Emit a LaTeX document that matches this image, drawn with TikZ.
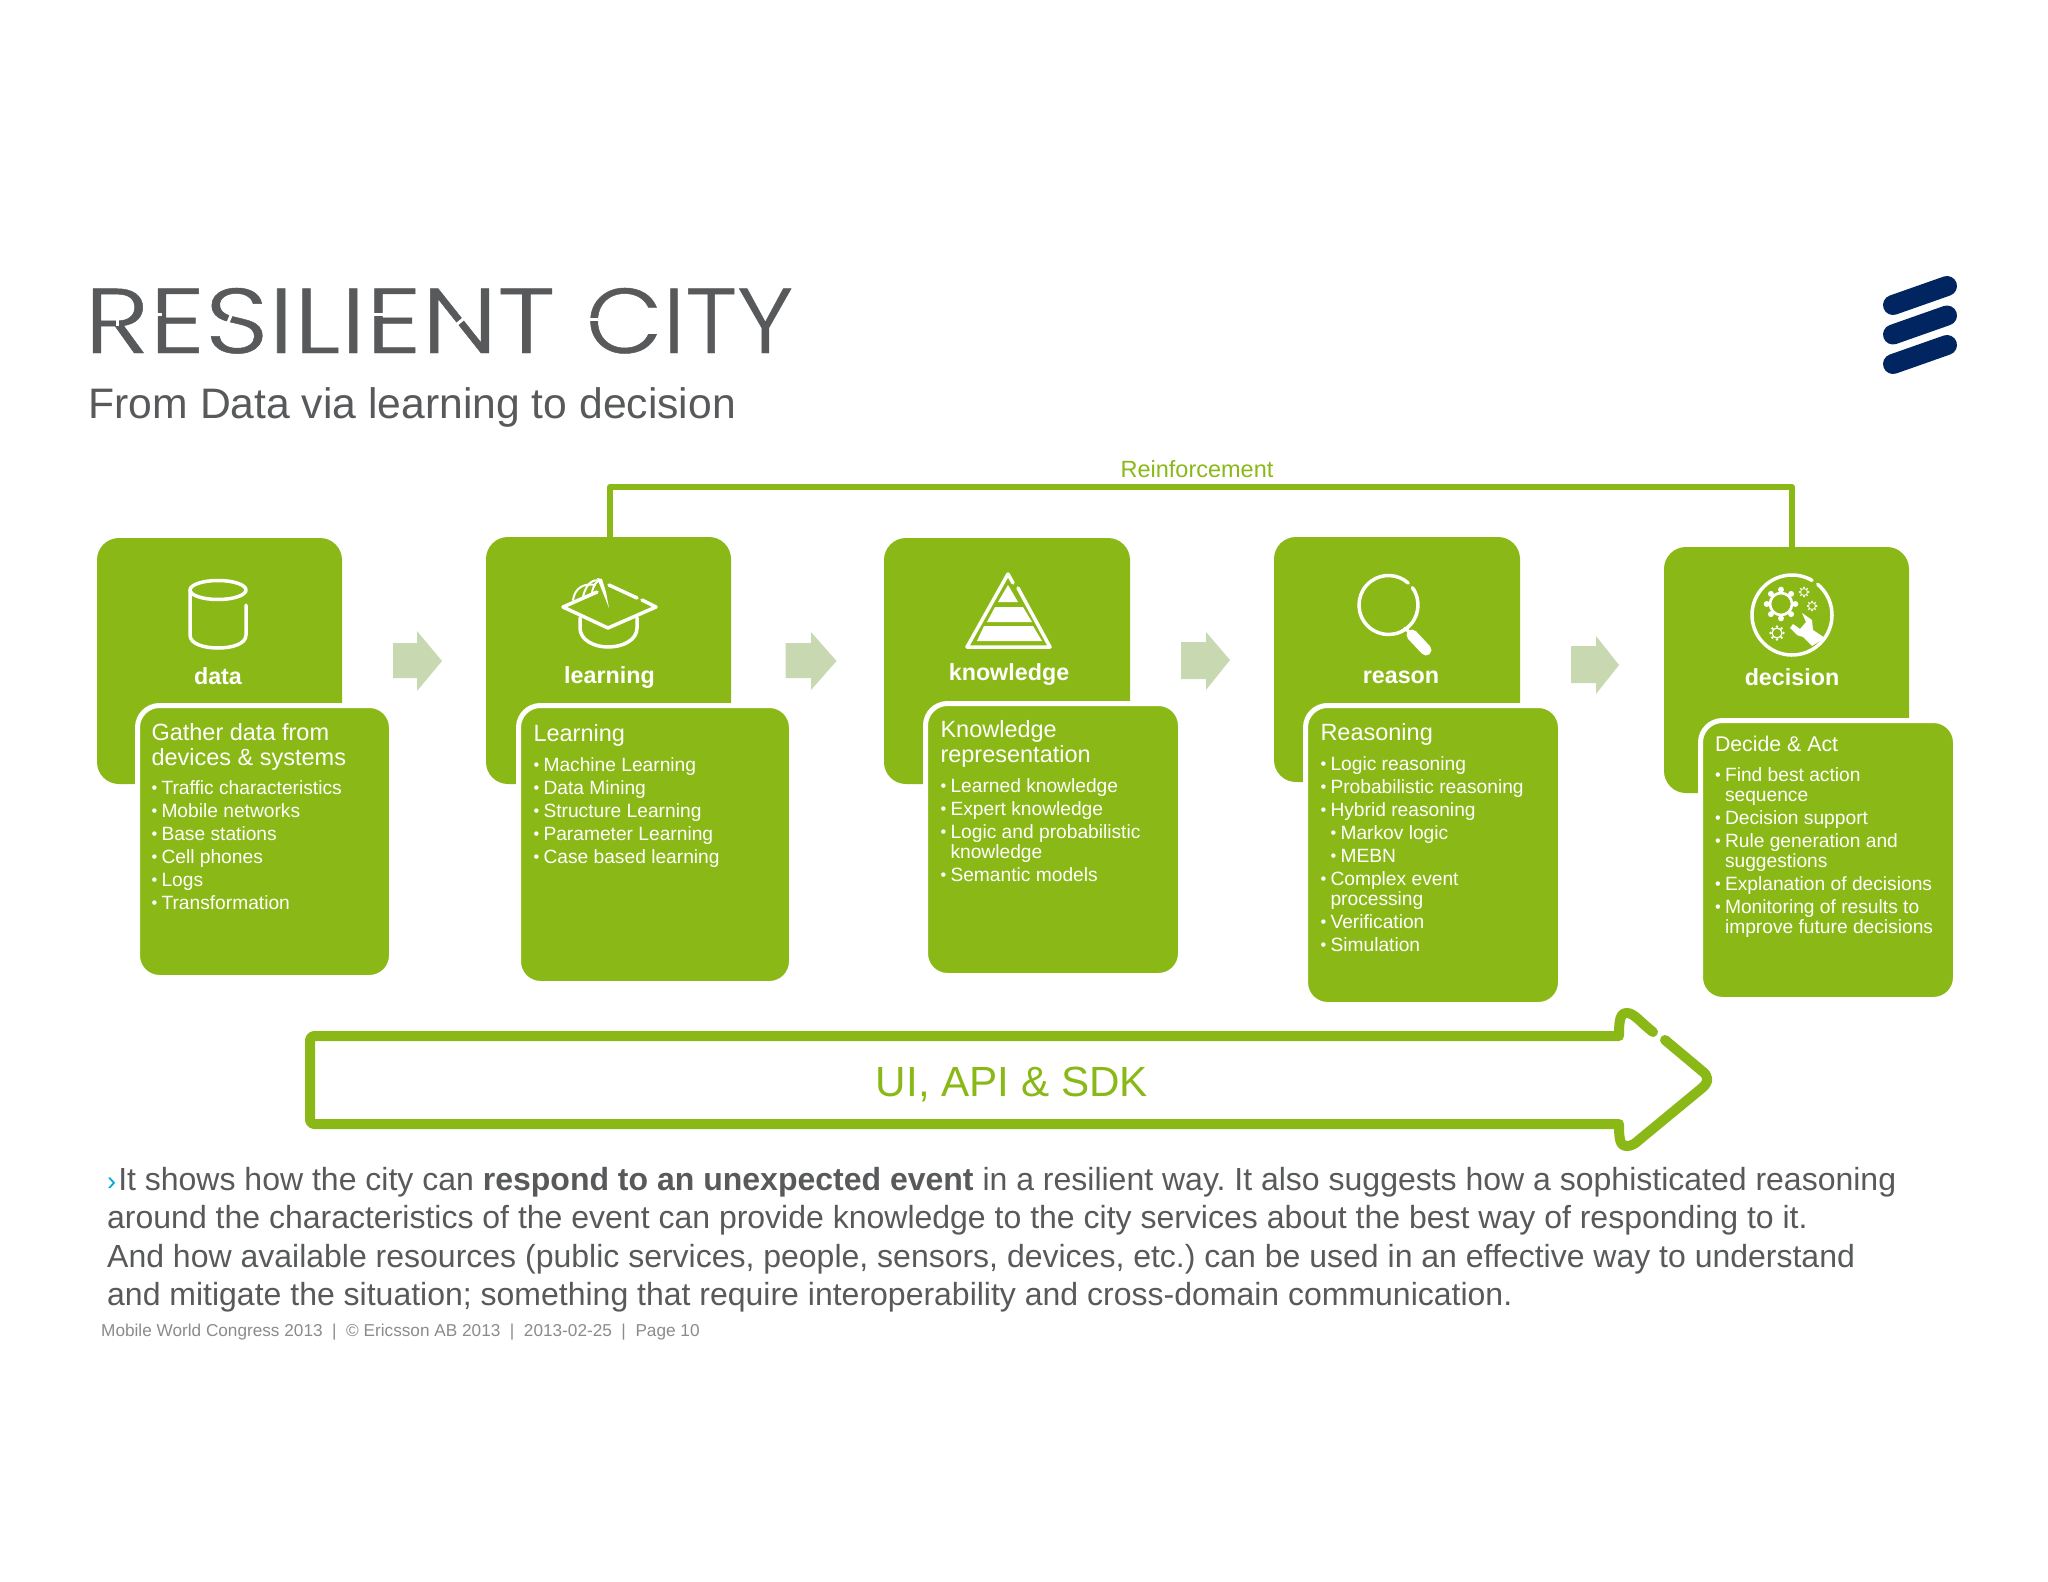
\documentclass[tikz,border=0pt]{standalone}
\usepackage{fontspec}
\usepackage{graphicx}
\setmainfont{Liberation Sans}
\newfontfamily\titlefont[UprightFont=* Light, FakeBold=0.5]{Poppins}
\definecolor{ericgreen}{HTML}{8AB917}
\definecolor{palegreen}{HTML}{C8D9B2}
\definecolor{slate}{HTML}{58595B}
\definecolor{footgrey}{HTML}{8A8B8D}
\definecolor{navy}{HTML}{002561}
\definecolor{chevron}{HTML}{00A9D4}
\newcommand{\itm}[1]{\makebox[10pt][l]{\raisebox{1pt}{\scalebox{.85}{•}}}#1}
\newcommand{\cnt}[1]{\hspace*{10pt}#1}
\newcommand{\sub}[1]{\hspace*{10pt}\itm{#1}}
\newcommand{\backbox}[5]{\node[backcard, minimum width={#4-#2}, minimum height={#5-#3}] (#1) at ({(#2+#4)/2},{(#3+#5)/2}) {};}
\newcommand{\frontbox}[5]{\node[frontcard, minimum width={#4-#2+5}, minimum height={#5-#3+5}] (#1) at ({(#2+#4)/2},{(#3+#5)/2}) {};}
\newcommand{\headtext}[5][23.5]{\node[cardtext, font=\fontsize{#1}{25}\selectfont] (#2) at (#3,{#4-20}) {\rule{0pt}{20pt}#5};}
\newcommand{\listtext}[4]{\node[cardtext, font=\fontsize{19.2}{20}\selectfont] (#1) at (#2,{#3-20}) {\rule{0pt}{20pt}#4};}
\newcommand{\gearicon}[3]{\draw[icon, line width=#3*0.24] (#1,#2) circle[radius=#3];
  \foreach \a in {0,45,...,315} \fill[white] (#1,#2) ++(\a:#3*1.3) circle[radius=#3*0.27];}
% left, neck, tip, head top, shaft top, tip y, shaft bottom, head bottom
\newcommand{\flowarrow}[8]{\fill[palegreen] (#1,#5) -- (#2,#5) -- (#2,#4) -- (#3,#6) -- (#2,#8) -- (#2,#7) -- (#1,#7) -- cycle;}
\tikzset{
  backcard/.style={fill=ericgreen, rounded corners=22pt, inner sep=0, outer sep=0},
  frontcard/.style={fill=ericgreen, draw=white, line width=5pt, rounded corners=22pt, inner sep=0, outer sep=0},
  cardtext/.style={text=white, align=left, anchor=north west, inner sep=0, outer sep=0},
  cardtitle/.style={text=white, anchor=base, inner sep=0, font=\fontsize{23.3}{26}\selectfont\bfseries},
  icon/.style={draw=white, line width=3.5pt, line cap=round, line join=round},
  barlogo/.style={draw=navy, line width=20pt, line cap=round},
  bigarrow/.style={draw=ericgreen, line width=10pt, line cap=round, line join=round},
  feedback/.style={draw=ericgreen, line width=6pt, line join=round},
  stencil/.style={draw=white, line width=3pt}
}
\begin{document}
\begin{tikzpicture}[x=1pt,y=-1pt]
\useasboundingbox (0,0) rectangle (2048,1582);
\fill[white] (0,0) rectangle (2048,1582);
% title
\node[anchor=base west, inner sep=0, text=slate, font=\fontsize{20}{20}\selectfont] (title) at (84,353) {\resizebox{471pt}{65pt}{\titlefont RESILIENT}\hspace{25pt} \resizebox{207.5pt}{65pt}{\titlefont CITY}};
% stencil breaks in the title lettering
\draw[stencil] (148,314) -- (162,314);
\draw[stencil] (373,314) -- (387,314);
\draw[stencil] (232,313) -- (227,325);
\draw[stencil] (456,325) -- (468,315);
\draw[stencil] (582,319) -- (598,319);
\draw[stencil] (117,315) -- (117,326);
\node[anchor=base west, inner sep=0, text=slate, font=\fontsize{42.65}{46}\selectfont] (subtitle) at (88.5,418) {From Data via learning to decision};
% logo
\draw[barlogo] (1893,305) -- (1947,286);
\draw[barlogo] (1893,334.5) -- (1947,315.5);
\draw[barlogo] (1893,364) -- (1947,345);
% back cards
\backbox{data}{97}{538}{342}{784}
\backbox{learning}{486}{537}{731}{784}
\backbox{knowledge}{884}{538}{1130}{784}
\backbox{reason}{1274}{537}{1520}{782}
\backbox{decision}{1664}{547}{1909}{793}
% reinforcement
\coordinate (fbL) at ([xshift=1.5pt]learning.north);
\coordinate (fbR) at ([xshift=5.5pt]decision.north);
\draw[feedback] (fbL) -- (fbL |- 0,487) -- (fbR |- 0,487) -- (fbR);
\node[anchor=base, inner sep=0, text=ericgreen, font=\fontsize{23.5}{26}\selectfont] (reinf) at (1197,477) {Reinforcement};
% front cards
\frontbox{dataT}{140}{708}{389}{975}
\frontbox{learningT}{521}{708}{789}{981}
\frontbox{knowledgeT}{928}{706}{1178}{973}
\frontbox{reasonT}{1308}{708}{1558}{1002}
\frontbox{decisionT}{1703}{723}{1953}{997}
% flow arrows
\flowarrow{393}{417}{442}{631}{643}{661}{678}{691}
\flowarrow{785.5}{811}{836.5}{632}{643}{661}{678}{690}
\flowarrow{1181}{1206}{1230}{632}{642}{660}{679}{690}
\flowarrow{1571}{1596}{1619}{636}{646}{665}{683}{694}
% card titles
\node[cardtitle] (tdata) at (218,684) {data};
\node[cardtitle] (tlearning) at (609.5,683) {learning};
\node[cardtitle] (tknowledge) at (1009,680) {knowledge};
\node[cardtitle] (treason) at (1401,683) {reason};
\node[cardtitle] (tdecision) at (1792,685) {decision};
% card text
\headtext{h1}{151.5}{740}{Gather data from\\devices \& systems}
\listtext{l1}{151.5}{794}{\itm{Traffic characteristics}\\[3pt]\itm{Mobile networks}\\[3pt]\itm{Base stations}\\[3pt]\itm{Cell phones}\\[3pt]\itm{Logs}\\[3pt]\itm{Transformation}}
\headtext{h2}{533.5}{741}{Learning}
\listtext{l2}{533.5}{771}{\itm{Machine Learning}\\[3pt]\itm{Data Mining}\\[3pt]\itm{Structure Learning}\\[3pt]\itm{Parameter Learning}\\[3pt]\itm{Case based learning}}
\headtext{h3}{940.5}{737}{Knowledge\\representation}
\listtext{l3}{940.5}{792}{\itm{Learned knowledge}\\[3pt]\itm{Expert knowledge}\\[3pt]\itm{Logic and probabilistic}\\\cnt{knowledge}\\[3pt]\itm{Semantic models}}
\headtext{h4}{1320.5}{740}{Reasoning}
\listtext{l4}{1320.5}{770}{\itm{Logic reasoning}\\[3pt]\itm{Probabilistic reasoning}\\[3pt]\itm{Hybrid reasoning}\\[3pt]\sub{Markov logic}\\[3pt]\sub{MEBN}\\[3pt]\itm{Complex event}\\\cnt{processing}\\[3pt]\itm{Verification}\\[3pt]\itm{Simulation}}
\headtext[21.3]{h5}{1715}{751}{Decide \& Act}
\listtext{l5}{1715}{781}{\itm{Find best action}\\\cnt{sequence}\\[3pt]\itm{Decision support}\\[3pt]\itm{Rule generation and}\\\cnt{suggestions}\\[3pt]\itm{Explanation of decisions}\\[3pt]\itm{Monitoring of results to}\\\cnt{improve future decisions}}
% icons: database
\draw[icon] (218,590) ellipse[x radius=28, y radius=9.5];
\draw[icon] (190,590) -- (190,635) .. controls (190,644) and (204,648) .. (218,648) .. controls (232,648) and (246,644) .. (246,635) -- (246,605);
% icons: cap
\draw[icon] (642,600) -- (656,607) -- (608,628) -- (563,607) -- (597,592);
\draw[icon] (609,585) -- (637,598);
\draw[icon] (580,618) -- (580,628) .. controls (580,640) and (594,647) .. (608,647) .. controls (623,647) and (637,640) .. (637,628) -- (637,618);
\draw[icon, line width=2pt] (573,600) .. controls (575,587) and (585,583) .. (595,585);
\draw[icon, line width=2pt] (583,597) .. controls (586,583) and (594,578) .. (601,581);
\draw[icon, line width=2pt] (592,593) .. controls (593,585) and (597,581) .. (600,580);
\fill[white] (597,578) -- (609,608) -- (606,592) -- (602,579) -- cycle;
% icons: pyramid
\draw[icon] (1018,588) -- (1050,647) -- (967,647) -- (1008,574) -- (1013,583);
\fill[white] (1008,585) -- (1018,602) -- (998,602) -- cycle;
\fill[white] (995,607) -- (1023,607) -- (1032,622) -- (987,622) -- cycle;
\fill[white] (984,626) -- (1033,626) -- (1042,641) -- (977,641) -- cycle;
% icons: magnifier
\draw[icon] (1388.5,605) ++(-36:29.5) arc[start angle=-36, end angle=312, radius=29.5];
\draw[icon, line width=11pt] (1412,635) -- (1426,650);
\draw[icon] (1405,628) -- (1412,635);
% icons: decision
\draw[icon] (1792,615) ++(-50:40) arc[start angle=-50, end angle=300, radius=40];
\gearicon{1781}{604}{11}
\gearicon{1804}{592}{3.5}
\gearicon{1812}{606}{3.5}
\gearicon{1777}{633}{5}
\fill[white, line join=round] (1802,613) -- (1812,620) -- (1813,630) -- (1825,638) -- (1812,646) -- (1803,637) -- (1797,635) -- (1790,628) -- (1793,624) -- (1800,629) -- (1806,622) -- cycle;
% big arrow
\draw[bigarrow] (1653,1032) .. controls (1640,1022) and (1634,1013) .. (1627,1013) .. controls (1620,1013) and (1619,1020) .. (1619,1036)
  [rounded corners=4pt] -- (310,1036) -- (310,1124) [sharp corners] -- (1619,1124)
  .. controls (1619,1140) and (1620,1146) .. (1627,1146) .. controls (1631,1146) and (1635,1144) .. (1639,1140)
  -- (1702,1088) .. controls (1709,1082) and (1709,1076) .. (1702,1071) -- (1665,1040);
\node[anchor=base, inner sep=0, text=ericgreen, font=\fontsize{42.2}{48}\selectfont] (ui) at (1012,1096) {UI, API \& SDK};
% body
\node[anchor=north west, align=left, inner sep=0, text=slate, font=\fontsize{32}{38.5}\selectfont\frenchspacing] (body) at (107,1160) {\rule{0pt}{30pt}\textcolor{chevron}{\scalebox{.85}{›}}\hspace{2pt}It shows how the city can \textbf{respond to an unexpected event} in a resilient way. It also suggests how a sophisticated reasoning\\around the characteristics of the event can provide knowledge to the city services about the best way of responding to it.\\And how available resources (public services, people, sensors, devices, etc.) can be used in an effective way to understand\\and mitigate the situation; something that require interoperability and cross-domain communication.};
\node[anchor=base west, inner sep=0, text=footgrey, font=\fontsize{17.2}{19}\selectfont] (foot) at (101,1336) {Mobile World Congress 2013\ \ |\ \ © Ericsson AB 2013\ \ |\ \ 2013-02-25\ \ |\ \ Page 10};
\end{tikzpicture}
\end{document}
